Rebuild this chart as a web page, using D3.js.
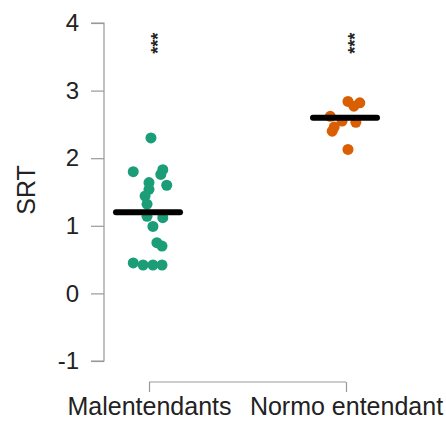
<!doctype html>
<html lang="fr">
<head>
<meta charset="UTF-8">
<title>SRT</title>
<script src="https://d3js.org/d3.v7.min.js"></script>
<style>
  body { margin: 0; background: #fff; }
  svg text { font-family: "Liberation Sans", Arial, sans-serif; fill: #222; }
</style>
</head>
<body>
<svg id="chart" width="446" height="422"></svg>
<script>
// ---- data ----
const groups = ["Malentendants", "Normo entendant"];
const colors = ["#1b9e77", "#d95f02"];
const yTicks = [-1, 0, 1, 2, 3, 4];
const means = [1.2, 2.6];
const stars = ["***", "***"];

// SRT values, with the horizontal jitter (fraction of spacing)
const srtMal = [2.3, 1.8, 1.83, 1.76, 1.64, 1.6, 1.54, 1.44, 1.32, 1.14, 1.12, 0.99, 0.75, 0.7, 0.45, 0.42, 0.42, 0.42];
const jitMal = [0.01, -0.08, 0.07, 0.06, 0.0, 0.09, 0.0, -0.02, -0.01, -0.01, 0.07, 0.02, 0.04, 0.066, -0.08, -0.03, 0.02, 0.066];
const srtNorm = [2.84, 2.82, 2.77, 2.62, 2.55, 2.53, 2.46, 2.4, 2.13];
const jitNorm = [0.01, 0.07, 0.04, -0.08, -0.02, 0.05, -0.06, -0.07, 0.01];

const points = [];
srtMal.forEach((v, i) => points.push({ g: 0, v: v, j: jitMal[i] }));
srtNorm.forEach((v, i) => points.push({ g: 1, v: v, j: jitNorm[i] }));

// ---- scales ----
const svg = d3.select("#chart");
const y = d3.scaleLinear().domain([-1, 4]).range([361, 23]);
const x = d3.scalePoint().domain(groups).range([149, 346]);
const spacing = x(groups[1]) - x(groups[0]);
const jit = d3.scaleLinear().domain([0, 1]).range([0, spacing]);

// y axis
const yAxis = svg.append("g").attr("transform", "translate(104,0)")
  .call(d3.axisLeft(y).tickValues(yTicks).tickSize(13).tickPadding(12)
    .tickFormat(d => String(d)));
yAxis.selectAll("path, line").attr("stroke", "#999").attr("stroke-width", 1.2);
yAxis.selectAll("text").style("font-size", "24px");
yAxis.select(".domain").attr("d", `M-13,${y(4)}H0V${y(-1)}H-13`);

svg.append("text")
  .attr("transform", "translate(35,190) rotate(-90)")
  .attr("text-anchor", "middle")
  .style("font-size", "25px")
  .text("SRT");

// x axis (bracket)
const xAxis = svg.append("g").attr("transform", "translate(0,382)")
  .call(d3.axisBottom(x).tickSize(10).tickPadding(5).tickSizeOuter(0));
xAxis.selectAll("path, line").attr("stroke", "#999").attr("stroke-width", 1.2);
xAxis.select(".domain").attr("d", `M${x(groups[0])},0H${x(groups[1])}`);
xAxis.selectAll("text").style("font-size", "25px");

// points
svg.append("g").selectAll("circle").data(points).enter().append("circle")
  .attr("cx", d => x(groups[d.g]) + jit(d.j))
  .attr("cy", d => y(d.v))
  .attr("r", 5.5)
  .attr("fill", d => colors[d.g]);

// mean bars
svg.append("g").selectAll("line").data(means).enter().append("line")
  .attr("x1", (d, i) => x(groups[i]) - 33)
  .attr("x2", (d, i) => x(groups[i]) + 31)
  .attr("y1", d => y(d)).attr("y2", d => y(d))
  .attr("stroke", "#000").attr("stroke-width", 6).attr("stroke-linecap", "round");

// significance stars
svg.append("g").selectAll("text").data(stars).enter().append("text")
  .attr("transform", (d, i) => `translate(${x(groups[i]) + 14.5},${y(3.7)}) rotate(-90)`)
  .attr("text-anchor", "middle")
  .style("font-size", "18px")
  .style("font-weight", "bold")
  .text(d => d);
</script>
</body>
</html>
